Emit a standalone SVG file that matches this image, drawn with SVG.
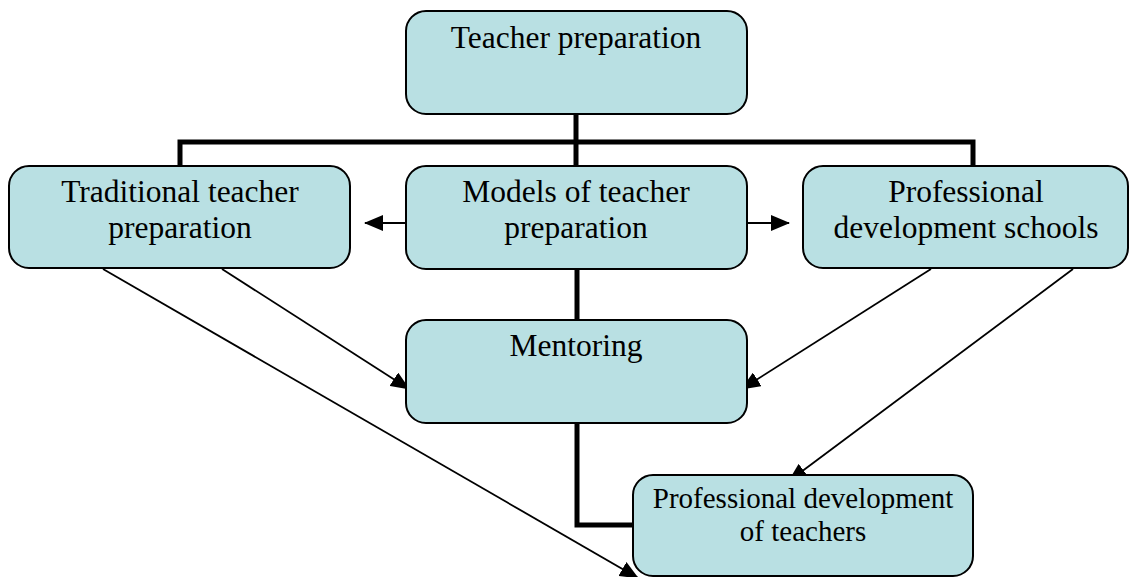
<svg xmlns="http://www.w3.org/2000/svg" width="1132" height="577" viewBox="0 0 1132 577">
<style>
.box{fill:#B9E0E3;stroke:#000;stroke-width:2}
.t{font-family:"Liberation Serif","Times New Roman",serif;font-size:31.5px;fill:#000;text-anchor:middle}
.t2{font-size:29px}
.thick{fill:none;stroke:#000;stroke-width:5}
.thin{fill:none;stroke:#000;stroke-width:1.8}
</style>
<defs>
<marker id="ah" markerUnits="userSpaceOnUse" markerWidth="19" markerHeight="16" refX="18" refY="8" orient="auto">
<path d="M0,0 L19,8 L0,16 Z" fill="#000"/>
</marker>
</defs>
<g id="connectors">
<path class="thick" d="M576,114 V166"/>
<path class="thick" d="M180,166 V142 H973 V166"/>
<path class="thick" d="M577,269 V320"/>
<path class="thick" d="M577,423 V525 H633"/>
<path class="thin" d="M406,223 H365" marker-end="url(#ah)"/>
<path class="thin" d="M747,223 H789" marker-end="url(#ah)"/>
<path class="thin" d="M222,269 L409,389" marker-end="url(#ah)"/>
<path class="thin" d="M931,269 L742,389" marker-end="url(#ah)"/>
<path class="thin" d="M103,269 L638,578" marker-end="url(#ah)"/>
<path class="thin" d="M1073,269 L789,481" marker-end="url(#ah)"/>
</g>
<g id="n-teacher-preparation">
<rect class="box" x="406" y="11" width="341" height="103" rx="20"/>
<text class="t" x="576" y="48">Teacher preparation</text>
</g>
<g id="n-traditional">
<rect class="box" x="9" y="166" width="341" height="102" rx="20"/>
<text class="t" x="180" y="202">Traditional teacher</text>
<text class="t" x="180" y="238">preparation</text>
</g>
<g id="n-models">
<rect class="box" x="406" y="166" width="341" height="103" rx="20"/>
<text class="t" x="576" y="202">Models of teacher</text>
<text class="t" x="576" y="238">preparation</text>
</g>
<g id="n-pds">
<rect class="box" x="803" y="166" width="325" height="102" rx="20"/>
<text class="t" x="966" y="202">Professional</text>
<text class="t" x="966" y="238">development schools</text>
</g>
<g id="n-mentoring">
<rect class="box" x="406" y="320" width="341" height="103" rx="20"/>
<text class="t" x="576" y="356">Mentoring</text>
</g>
<g id="n-pd-teachers">
<rect class="box" x="633" y="475" width="340" height="101" rx="20"/>
<text class="t t2" x="803" y="508">Professional development</text>
<text class="t t2" x="803" y="541">of teachers</text>
</g>
</svg>
